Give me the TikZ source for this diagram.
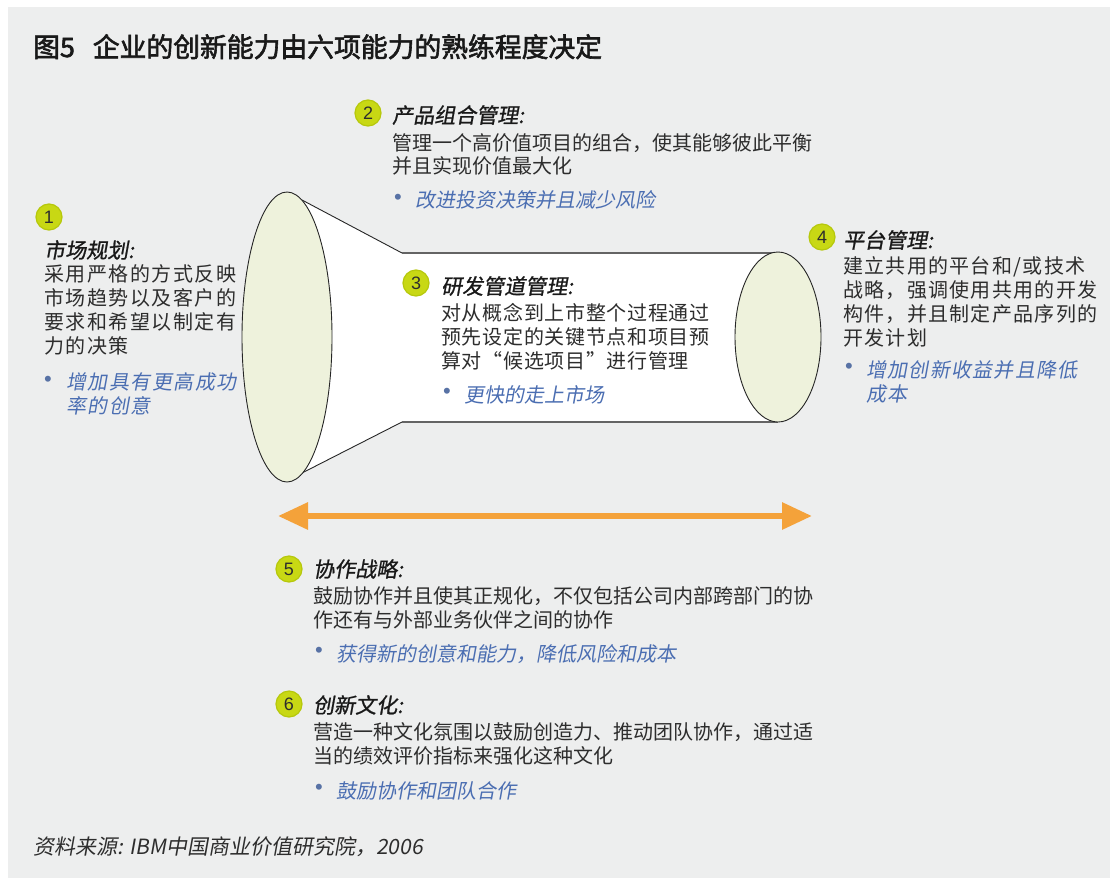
\documentclass[tikz,border=0pt]{standalone}
\usepackage{fontspec}
\setmainfont{Noto Sans CJK SC}
\newfontfamily\cjk{Noto Sans CJK SC}
\newfontfamily\cjkit[FakeSlant=0.18]{Noto Sans CJK SC}
\newfontfamily\cjkhd[FakeSlant=0.18,FakeBold=1]{Noto Sans CJK SC}
\newfontfamily\cjktitle[FakeBold=2.2]{Noto Sans CJK SC}
\newfontfamily\digitfont{Liberation Sans}
\usetikzlibrary{arrows.meta}
\definecolor{bg}{RGB}{237,238,238}
\definecolor{txt}{RGB}{45,45,45}
\definecolor{ttl}{RGB}{25,25,25}
\definecolor{keyblue}{RGB}{75,110,178}
\definecolor{badge}{RGB}{200,216,20}
\definecolor{badgeedge}{RGB}{182,200,12}
\definecolor{ellfill}{RGB}{238,242,220}
\definecolor{arrorange}{RGB}{244,162,58}
\definecolor{tubeline}{RGB}{100,100,100}
\tikzset{
  badgenode/.style={circle, fill=badge, draw=badgeedge, line width=1.2pt, minimum size=26pt, inner sep=0pt, font=\digitfont\fontsize{18}{18}\selectfont, text=txt},
  headnode/.style={anchor=base west, inner sep=0pt, font=\cjkhd\fontsize{21}{24}\selectfont, text=ttl},
  bodynode/.style={anchor=base west, inner sep=0pt, text width=480pt, align=left, text=txt},
  keynode/.style={anchor=base west, inner sep=0pt, text width=300pt, align=left, text=keyblue},
  dotnode/.style={inner sep=0pt, font=\digitfont\fontsize{22}{22}\selectfont, text=keyblue!75!gray},
  ellstyle/.style={fill=ellfill, draw=black!85, line width=0.9pt},
}
\begin{document}
\begin{tikzpicture}[x=1pt,y=-1pt]
\useasboundingbox (0,0) rectangle (1110,878);
\fill[white] (0,0) rectangle (1110,878);
\fill[bg] (8,7) rectangle (1110,878);

% title
\node[anchor=base west, inner sep=0pt, font=\cjktitle\fontsize{26.8}{30}\selectfont, text=ttl] (title) at (33,57) {图5\hspace{18pt}企业的创新能力由六项能力的熟练程度决定};

% funnel / tube
\fill[white] (302,200) -- (402,253) -- (778,253) -- (778,422) -- (402,422) -- (302,473) -- cycle;
\draw[black!85, line width=0.9pt] (302,200) -- (402,253);
\draw[black!85, line width=0.9pt] (302,473) -- (402,422);
\draw[tubeline, line width=1.6pt] (402,253) -- (778,253);
\draw[tubeline, line width=1.6pt] (402,422) -- (778,422);
\draw[ellstyle] (287,337) ellipse [x radius=45pt, y radius=145pt];
\draw[ellstyle] (778,337) ellipse [x radius=43pt, y radius=85pt];

% double arrow
\coordinate (aL) at (278,516);
\coordinate (aR) at (812,516);
\draw[arrorange, line width=6pt, {Triangle[length=30pt,width=26pt]}-{Triangle[length=30pt,width=26pt]}] (aL) -- (aR);

% section 1
\node[badgenode] (c1) at (49,217) {1};
\node[headnode] (h1) at (44,258) {市场规划:};
\node[bodynode, font=\cjk\addfontfeature{LetterSpace=7.5}\fontsize{20}{24}\selectfont] (b1) at (44,281) {采用严格的方式反映\\市场趋势以及客户的\\要求和希望以制定有\\力的决策};
\node[dotnode] (d1) at (48,381) {•};
\node[keynode, font=\cjkit\addfontfeature{LetterSpace=7.5}\fontsize{20}{24.5}\selectfont] (k1) at (66,389) {增加具有更高成功\\率的创意};

% section 2
\node[badgenode] (c2) at (368,113) {2};
\node[headnode] (h2) at (392,123) {产品组合管理:};
\node[bodynode, font=\cjk\fontsize{20}{23}\selectfont] (b2) at (392,150) {管理一个高价值项目的组合，使其能够彼此平衡\\并且实现价值最大化};
\node[dotnode] (d2) at (398,199) {•};
\node[keynode, font=\cjkit\fontsize{20}{24}\selectfont] (k2) at (415,207) {改进投资决策并且减少风险};

% section 3
\node[badgenode] (c3) at (416,283) {3};
\node[headnode] (h3) at (441,294) {研发管道管理:};
\node[bodynode, font=\cjk\addfontfeature{LetterSpace=3.5}\fontsize{20}{24}\selectfont] (b3) at (441,320) {对从概念到上市整个过程通过\\预先设定的关键节点和项目预\\算对“候选项目”进行管理};
\node[dotnode] (d3) at (447,393) {•};
\node[keynode, font=\cjkit\fontsize{20}{24}\selectfont] (k3) at (464,402) {更快的走上市场};

% section 4
\node[badgenode] (c4) at (822,237) {4};
\node[headnode] (h4) at (843,248) {平台管理:};
\node[bodynode, font=\cjk\addfontfeature{LetterSpace=6.5}\fontsize{20}{24}\selectfont] (b4) at (843,273) {建立共用的平台和/或技术\\战略，强调使用共用的开发\\构件，并且制定产品序列的\\开发计划};
\node[dotnode] (d4) at (849,368) {•};
\node[keynode, font=\cjkit\addfontfeature{LetterSpace=6.5}\fontsize{20}{24.5}\selectfont] (k4) at (866,377) {增加创新收益并且降低\\成本};

% section 5
\node[badgenode] (c5) at (289,569) {5};
\node[headnode] (h5) at (313,577) {协作战略:};
\node[bodynode, font=\cjk\fontsize{20}{24}\selectfont] (b5) at (313,603) {鼓励协作并且使其正规化，不仅包括公司内部跨部门的协\\作还有与外部业务伙伴之间的协作};
\node[dotnode] (d5) at (319,652) {•};
\node[keynode, font=\cjkit\fontsize{20}{24}\selectfont] (k5) at (336,661) {获得新的创意和能力，降低风险和成本};

% section 6
\node[badgenode] (c6) at (289,704) {6};
\node[headnode] (h6) at (313,713) {创新文化:};
\node[bodynode, font=\cjk\fontsize{20}{24}\selectfont] (b6) at (313,739) {营造一种文化氛围以鼓励创造力、推动团队协作，通过适\\当的绩效评价指标来强化这种文化};
\node[dotnode] (d6) at (319,789) {•};
\node[keynode, font=\cjkit\fontsize{20}{24}\selectfont] (k6) at (336,798) {鼓励协作和团队合作};

% source
\node[anchor=base west, inner sep=0pt, font=\cjkit\fontsize{21}{24}\selectfont, text=txt] (src) at (33,854) {资料来源: IBM中国商业价值研究院，2006};
\end{tikzpicture}
\end{document}
